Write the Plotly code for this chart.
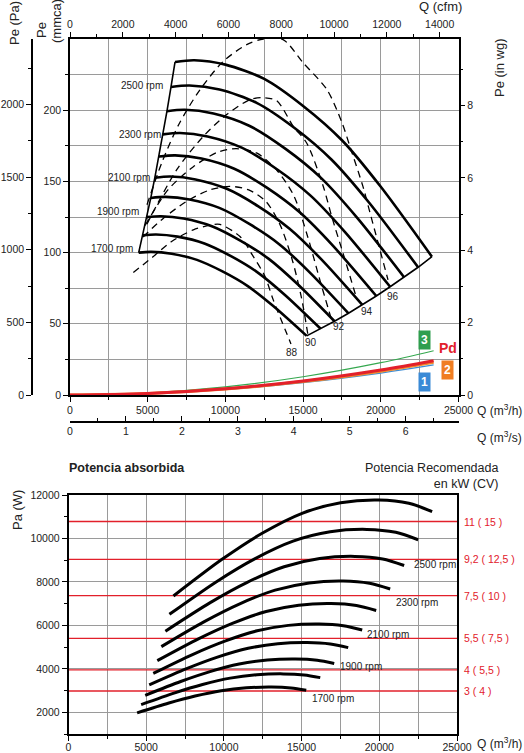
import plotly.graph_objects as go

FONT = "Liberation Sans, Arial, sans-serif"
W, H = 524, 753

# ---------------- Top chart data (Q in m3/h, Pe in mmca) ----------------
rpm = [1700, 1800, 1900, 2000, 2100, 2200, 2300, 2400, 2500, 2600]
fan_q = [
    [4420, 5230, 6540, 8170, 9810, 11440, 13080, 15230],
    [4680, 5540, 6920, 8650, 10390, 12110, 13850, 16130],
    [4940, 5850, 7310, 9130, 10960, 12790, 14620, 17020],
    [5200, 6150, 7690, 9610, 11540, 13460, 15390, 17920],
    [5460, 6460, 8080, 10090, 12120, 14130, 16160, 18810],
    [5720, 6770, 8460, 10570, 12690, 14800, 16930, 19710],
    [5980, 7080, 8850, 11050, 13270, 15480, 17700, 20600],
    [6240, 7380, 9230, 11530, 13850, 16150, 18470, 21500],
    [6500, 7690, 9620, 12010, 14430, 16820, 19240, 22400],
    [6760, 8000, 10000, 12500, 15000, 17500, 20000, 23290],
]
fan_p = [
    [100.0, 100.5, 99.2, 94.9, 86.8, 76.5, 62.5, 41.5],
    [112.1, 112.7, 111.2, 106.4, 97.3, 85.8, 70.1, 46.5],
    [124.9, 125.5, 123.9, 118.5, 108.4, 95.6, 78.1, 51.8],
    [138.4, 139.1, 137.3, 131.4, 120.1, 105.9, 86.5, 57.4],
    [152.6, 153.4, 151.4, 144.8, 132.5, 116.7, 95.4, 63.3],
    [167.5, 168.3, 166.1, 158.9, 145.4, 128.1, 104.7, 69.5],
    [183.0, 184.0, 181.6, 173.7, 158.9, 140.0, 114.4, 76.0],
    [199.3, 200.3, 197.7, 189.1, 173.0, 152.5, 124.6, 82.7],
    [216.3, 217.3, 214.5, 205.2, 187.7, 165.4, 135.2, 89.7],
    [233.9, 235.1, 232.0, 222.0, 203.0, 178.9, 146.2, 97.1],
]
rpm_lbl_text = ["2500 rpm", "2300 rpm", "2100 rpm", "1900 rpm", "1700 rpm"]
rpm_lbl_q = [6100, 5980, 5280, 4570, 4180]
rpm_lbl_p = [217, 183, 153, 129, 103]

# dashed iso-lines (88..96)
iso_lbl = ["88", "90", "92", "94", "96"]
iso_q = [
    [4075, 5360, 6540, 7935, 9010, 9650, 10940, 11800, 12550, 13080, 14220],
    [4700, 6000, 7500, 9000, 10300, 11500, 12600, 13500, 14300, 14900, 15300],
    [4830, 6300, 7900, 9500, 10700, 12000, 13300, 14400, 15300, 16100, 16800],
    [4950, 6870, 8580, 10080, 11580, 12400, 13300, 14370, 15230, 16300, 16840, 17700, 18470],
    [4955, 5900, 7000, 8366, 9865, 11370, 12440, 13707, 14994, 16538, 17503, 18018, 18855, 19305, 20463],
]
iso_p = [
    [86, 97.2, 107.8, 116, 119.3, 119.8, 111.3, 97.2, 83.2, 66.8, 35.9],
    [111, 124, 136, 144, 146.5, 144, 136, 120, 95, 68, 43],
    [119, 144, 160, 170.5, 173, 170, 158, 140, 111, 80, 54],
    [120, 158.2, 181.6, 196.9, 207.4, 208.8, 206.7, 188.6, 177, 146.4, 125.4, 94.9, 66.8],
    [133.6, 162.9, 190, 214.4, 234.3, 246, 250, 249.6, 233.4, 214.4, 191.2, 174.4, 146.3, 128.0, 80.9],
]
iso_lbl_q = [14290, 15510, 17310, 19110, 20770]
iso_lbl_p = [29.5, 36.6, 47.8, 58.4, 69.1]

# dynamic pressure curves
pd_q = [0, 5000, 10000, 15000, 20000, 23400]
pd_1 = [0, 0.96, 3.85, 8.67, 15.4, 21.1]
pd_2 = [0, 1.05, 4.2, 9.4, 16.7, 22.9]
pd_red = [0, 1.10, 4.40, 9.9, 17.6, 24.1]
pd_3 = [0, 1.42, 5.68, 12.8, 22.7, 31.1]

# ---------------- Bottom chart data (Q in m3/h, power W) ----------------
pw_q = [
    [4416, 6460, 8147, 9828, 11449, 13058, 14319, 15300],
    [4676, 6840, 8626, 10406, 12122, 13825, 15162, 16200],
    [4936, 7220, 9105, 10984, 12796, 14594, 16004, 17100],
    [5195, 7600, 9585, 11562, 13469, 15362, 16846, 18000],
    [5455, 7980, 10064, 12140, 14143, 16130, 17688, 18900],
    [5715, 8360, 10543, 12718, 14816, 16898, 18531, 19800],
    [5975, 8740, 11022, 13296, 15490, 17666, 19372, 20700],
    [6235, 9120, 11502, 13874, 16163, 18434, 20215, 21600],
    [6494, 9500, 11981, 14452, 16837, 19202, 21058, 22500],
    [6754, 9880, 12460, 15030, 17510, 19970, 21900, 23400],
]
pw_w = [
    [1973, 2426, 2747, 2994, 3125, 3158, 3117, 3014],
    [2353, 2893, 3276, 3571, 3727, 3767, 3718, 3594],
    [2781, 3418, 3871, 4219, 4403, 4450, 4393, 4247],
    [3258, 4005, 4536, 4943, 5159, 5214, 5147, 4976],
    [3789, 4658, 5275, 5749, 6000, 6064, 5985, 5787],
    [4376, 5379, 6092, 6640, 6930, 7004, 6913, 6684],
    [5023, 6175, 6993, 7622, 7955, 8040, 7935, 7672],
    [5733, 7047, 7981, 8698, 9078, 9175, 9056, 8756],
    [6509, 8001, 9062, 9876, 10308, 10418, 10282, 9941],
    [7354, 9040, 10238, 11158, 11646, 11770, 11617, 11232],
]
pw_lbl_text = ["2500 rpm", "2300 rpm", "2100 rpm", "1900 rpm", "1700 rpm"]
pw_lbl_q = [22100, 20930, 19100, 17350, 15530]
pw_lbl_w = [8780, 7050, 5590, 4130, 2650]

motor_w = [10780, 9040, 7370, 5400, 3950, 2980]
motor_lbl = ["11 ( 15 )", "9,2 ( 12,5 )", "7,5 ( 10 )", "5,5 ( 7,5 )", "4 ( 5,5 )", "3 ( 4 )"]

# ---------------- Figure ----------------
fig = go.Figure()

def px(xp):
    return xp / W

def py(yp):
    return 1 - yp / H

for q, p in zip(iso_q, iso_p):
    fig.add_trace(go.Scatter(x=q, y=p, mode="lines", xaxis="x", yaxis="y",
                             line=dict(color="black", width=1.3, dash="7px,5px", shape="spline", smoothing=0.8),
                             hoverinfo="skip", showlegend=False))
for q, p in zip(fan_q, fan_p):
    fig.add_trace(go.Scatter(x=q, y=p, mode="lines", xaxis="x", yaxis="y",
                             line=dict(color="black", width=2.6, shape="spline", smoothing=0.8),
                             hoverinfo="skip", showlegend=False))
fig.add_trace(go.Scatter(x=[q[0] for q in fan_q], y=[p[0] for p in fan_p], mode="lines",
                         xaxis="x", yaxis="y", line=dict(color="black", width=1.6),
                         hoverinfo="skip", showlegend=False))
fig.add_trace(go.Scatter(x=[q[-1] for q in fan_q], y=[p[-1] for p in fan_p], mode="lines",
                         xaxis="x", yaxis="y", line=dict(color="black", width=1.6),
                         hoverinfo="skip", showlegend=False))
fig.add_trace(go.Scatter(x=pd_q, y=pd_1, mode="lines", xaxis="x", yaxis="y",
                         line=dict(color="#3f8fd6", width=1.2, shape="spline"), hoverinfo="skip", showlegend=False))
fig.add_trace(go.Scatter(x=pd_q, y=pd_3, mode="lines", xaxis="x", yaxis="y",
                         line=dict(color="#35a84f", width=1.2, shape="spline"), hoverinfo="skip", showlegend=False))
fig.add_trace(go.Scatter(x=pd_q, y=pd_2, mode="lines", xaxis="x", yaxis="y",
                         line=dict(color="#f08a2c", width=3, shape="spline"), hoverinfo="skip", showlegend=False))
fig.add_trace(go.Scatter(x=pd_q, y=pd_red, mode="lines", xaxis="x", yaxis="y",
                         line=dict(color="#e2202b", width=3, shape="spline"), hoverinfo="skip", showlegend=False))

fig.add_trace(go.Scatter(x=[None], y=[None], xaxis="x2", yaxis="y", showlegend=False, hoverinfo="skip"))
fig.add_trace(go.Scatter(x=[None], y=[None], xaxis="x3", yaxis="y", showlegend=False, hoverinfo="skip"))
fig.add_trace(go.Scatter(x=[None], y=[None], xaxis="x", yaxis="y2", showlegend=False, hoverinfo="skip"))
fig.add_trace(go.Scatter(x=[None], y=[None], xaxis="x", yaxis="y3", showlegend=False, hoverinfo="skip"))

for wv in motor_w:
    fig.add_trace(go.Scatter(x=[0, 25000], y=[wv, wv], mode="lines", xaxis="x4", yaxis="y4",
                             line=dict(color="#e2202b", width=1.3), hoverinfo="skip", showlegend=False))
for q, w in zip(pw_q, pw_w):
    fig.add_trace(go.Scatter(x=q, y=w, mode="lines", xaxis="x4", yaxis="y4",
                             line=dict(color="black", width=3, shape="spline", smoothing=0.8),
                             hoverinfo="skip", showlegend=False))

TOPX = [px(70), px(458.5)]
TOPY = [py(395), py(39)]
BOTX = [px(68.5), px(457)]
BOTY = [py(734), py(495)]
GRID = "#9a9a9a"
tickf = dict(family=FONT, size=10.5, color="#222")
TF = dict(family=FONT, size=13, color="#222")
TFS = dict(family=FONT, size=12, color="#222")

common = dict(ticklen=5, tickcolor="black", showline=True, linecolor="black", linewidth=1.5,
              tickfont=tickf, zeroline=False, tickformat="d", automargin=False)

fig.update_layout(
    width=W, height=H, margin=dict(l=0, r=0, t=0, b=0, pad=0, autoexpand=False),
    paper_bgcolor="white", plot_bgcolor="white",
    font=dict(family=FONT, color="#222"),
    showlegend=False,
    xaxis=dict(domain=TOPX, range=[0, 25000], anchor="y", side="bottom",
               tickvals=[0, 5000, 10000, 15000, 20000, 25000], ticks="outside",
               showgrid=True, gridcolor=GRID, gridwidth=1,
               minor=dict(tickvals=[2500, 7500, 12500, 17500, 22500], ticks="outside", ticklen=3,
                          tickcolor="black", showgrid=True, gridcolor=GRID, gridwidth=1),
               **common),
    xaxis2=dict(overlaying="x", side="top", anchor="y", range=[0, 25000 / 1.699],
                tickvals=[0, 2000, 4000, 6000, 8000, 10000, 12000, 14000], ticks="outside", showgrid=False,
                minor=dict(dtick=1000, ticks="outside", ticklen=3, tickcolor="black"),
                **common),
    xaxis3=dict(overlaying="x", anchor="free", position=py(422), side="bottom", range=[0, 25000 / 3600],
                tickvals=[0, 1, 2, 3, 4, 5, 6], ticks="inside", showgrid=False,
                minor=dict(dtick=0.5, ticks="inside", ticklen=3, tickcolor="black"),
                **common),
    yaxis=dict(domain=TOPY, range=[0, 250], anchor="x", tickvals=[0, 50, 100, 150, 200],
               ticks="outside", showgrid=True, gridcolor=GRID, gridwidth=1,
               minor=dict(tickvals=[25, 75, 125, 175, 225], ticks="outside", ticklen=3, tickcolor="black",
                          showgrid=True, gridcolor=GRID, gridwidth=1),
               **common),
    yaxis2=dict(overlaying="y", anchor="free", position=px(32), side="left", range=[0, 250 * 9.80665],
                tickvals=[0, 500, 1000, 1500, 2000], ticks="outside", showgrid=False,
                minor=dict(dtick=250, ticks="outside", ticklen=3, tickcolor="black"),
                **common),
    yaxis3=dict(overlaying="y", anchor="x", side="right", range=[0, 250 / 25.4],
                tickvals=[0, 2, 4, 6, 8], ticks="outside", showgrid=False,
                minor=dict(dtick=1, ticks="outside", ticklen=3, tickcolor="black"),
                **common),
    xaxis4=dict(domain=BOTX, range=[0, 25000], anchor="y4",
                tickvals=[0, 5000, 10000, 15000, 20000, 25000], ticks="outside", mirror=True,
                showgrid=True, gridcolor=GRID, gridwidth=1, ticklabelstandoff=-2,
                minor=dict(tickvals=[2500, 7500, 12500, 17500, 22500], ticks="outside", ticklen=3,
                           tickcolor="black", showgrid=True, gridcolor=GRID, gridwidth=1),
                **common),
    yaxis4=dict(domain=BOTY, range=[1000, 12000.5], anchor="x4",
                tickvals=[2000, 4000, 6000, 8000, 10000, 12000], ticks="outside", mirror=True,
                showgrid=True, gridcolor=GRID, gridwidth=1,
                minor=dict(dtick=1000, ticks="outside", ticklen=3, tickcolor="black", showgrid=False),
                **common),
)

ann = []
def A(**k):
    k.setdefault("xanchor", "center")
    k.setdefault("yanchor", "middle")
    k.setdefault("showarrow", False)
    ann.append(k)

A(text="Pe (Pa)", x=px(15), y=py(23), xref="paper", yref="paper", textangle=-90, font=TF)
A(text="Pe", x=px(42), y=py(30), xref="paper", yref="paper", textangle=-90, font=TF)
A(text="(mmca)", x=px(57), y=py(21), xref="paper", yref="paper", textangle=-90, font=TF)
A(text="Q (cfm)", x=px(440), y=py(7), xref="paper", yref="paper", font=TF)
A(text="Pe (in wg)", x=px(499), y=py(68), xref="paper", yref="paper", textangle=-90, font=TF)
A(text="Q (m<sup>3</sup>/h)", x=px(475), y=py(410), xref="paper", yref="paper", xanchor="left", font=TFS)
A(text="Q (m<sup>3</sup>/s)", x=px(475), y=py(437), xref="paper", yref="paper", xanchor="left", font=TFS)
A(text="<b>Potencia absorbida</b>", x=px(67), y=py(468), xref="paper", yref="paper", xanchor="left",
  font=dict(family=FONT, size=12.5, color="#222"))
A(text="Potencia Recomendada<br>en kW (CV)", x=px(500), y=py(476), xref="paper", yref="paper",
  xanchor="right", align="right", font=dict(family=FONT, size=12.5, color="#222"))
A(text="Pa (W)", x=px(18), y=py(510), xref="paper", yref="paper", textangle=-90, font=TF)
A(text="Q (m<sup>3</sup>/h)", x=px(475), y=py(743), xref="paper", yref="paper", xanchor="left", font=TFS)

lblf = dict(family=FONT, size=10, color="#222")
for t, q, p in zip(rpm_lbl_text, rpm_lbl_q, rpm_lbl_p):
    A(text=t, x=q, y=p, xref="x", yref="y", xanchor="right", font=lblf)
for t, q, p in zip(iso_lbl, iso_lbl_q, iso_lbl_p):
    A(text=t, x=q, y=p, xref="x", yref="y", font=lblf)

A(text="<b>3</b>", x=px(424.5), y=py(340), xref="paper", yref="paper", bgcolor="#2f9e4e",
  borderpad=2, font=dict(family=FONT, size=12, color="white"))
A(text="<b>Pd</b>", x=px(448), y=py(348), xref="paper", yref="paper",
  font=dict(family=FONT, size=14, color="#e2202b"))
A(text="<b>2</b>", x=px(447), y=py(370), xref="paper", yref="paper", bgcolor="#f07d22",
  borderpad=2, font=dict(family=FONT, size=12, color="white"))
A(text="<b>1</b>", x=px(424.5), y=py(382), xref="paper", yref="paper", bgcolor="#3a8ad6",
  borderpad=2, font=dict(family=FONT, size=12, color="white"))

for t, q, w in zip(pw_lbl_text, pw_lbl_q, pw_lbl_w):
    A(text=t, x=q, y=w, xref="x4", yref="y4", xanchor="left", font=lblf)
for t, w in zip(motor_lbl, motor_w):
    A(text=t, x=px(462), y=w, xref="paper", yref="y4", xanchor="left",
      font=dict(family=FONT, size=10.5, color="#e2202b"))

fig.update_layout(annotations=ann)
fig.write_html(
    "out.html",
    config={"displayModeBar": False},
    post_script="document.documentElement.style.margin='0px';document.body.style.margin='0px';",
)
